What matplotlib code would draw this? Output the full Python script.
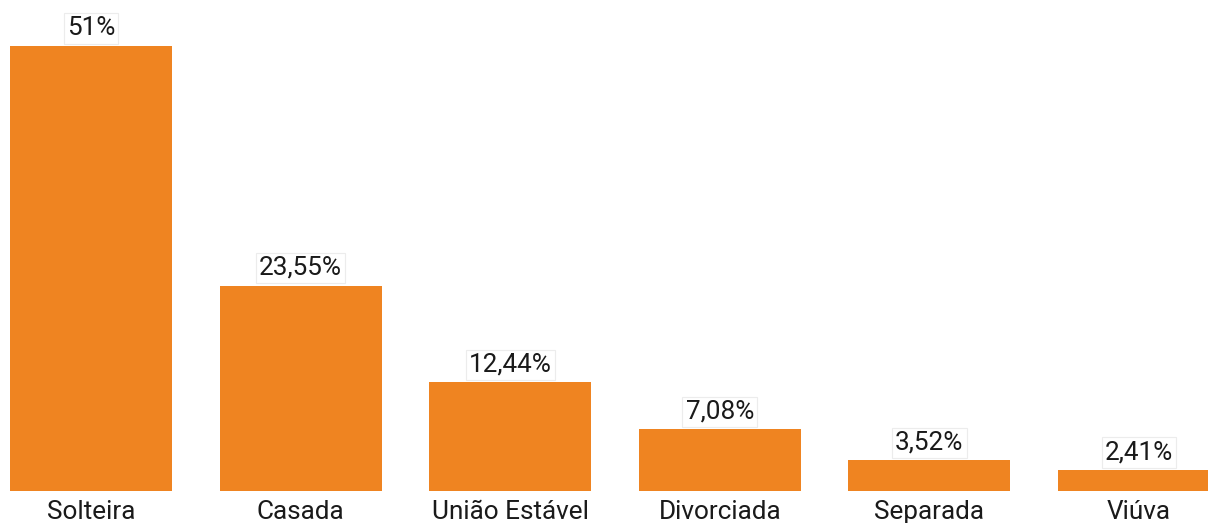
import matplotlib.pyplot as plt

categorias = ["Solteira", "Casada", "União Estável", "Divorciada", "Separada", "Viúva"]
valores = [51, 23.55, 12.44, 7.08, 3.52, 2.41]
rotulos = ["51%", "23,55%", "12,44%", "7,08%", "3,52%", "2,41%"]

plt.rcParams['font.family'] = ['Roboto', 'DejaVu Sans']

fig = plt.figure(figsize=(12.08, 5.23), dpi=100)
ax = fig.add_axes([0, 0.0612, 1, 0.9388])

x = range(len(categorias))
ax.bar(x, valores, width=0.773, color='#EF8421')

for i, (v, r) in enumerate(zip(valores, rotulos)):
    ax.annotate(r, (i, v), xytext=(0, 4), textcoords='offset points',
                ha='center', va='bottom', fontsize=18.8, color='#1a1a1a',
                bbox=dict(boxstyle='square,pad=0.12', fc='white', ec='#ececec', lw=0.8))

ax.set_xlim(-0.434, 5.329)
ax.set_ylim(0, 56.27)
ax.set_xticks(list(x))
ax.set_xticklabels(categorias, fontsize=18.8, color='#1a1a1a')
ax.tick_params(axis='x', length=0, pad=6.5)
ax.set_yticks([])
for s in ax.spines.values():
    s.set_visible(False)

fig.savefig("out.png", dpi=100)
